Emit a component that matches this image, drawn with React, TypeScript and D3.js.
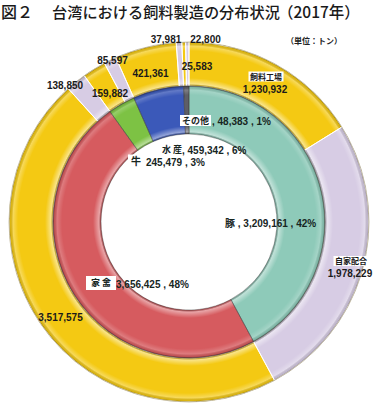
import React from "react";
import * as d3 from "d3";

// ---- data ----
const innerCats = ["豚", "家禽", "牛", "水産", "その他"];
const innerValues = [3209161, 3656425, 245479, 459342, 48383];
const innerPct = ["42%", "48%", "3%", "6%", "1%"];
const factoryValues = [1230932, 3517575, 159882, 421361, 25583]; // 飼料工場
const selfMixValues = [1978229, 138850, 85597, 37981, 22800]; // 自家配合
const outerTypes = ["飼料工場", "自家配合"];
const titleFig = "図２";
const titleMain = "台湾における飼料製造の分布状況";
const titleYear = "（2017年）";
const unitText = "（単位：トン）";

// ---- style / layout ----
const W = 379, H = 407;
const cx = 189, cy = 222;
const rHole = 88, rMid = 136, rOuter = 180;
const innerColors = ["#8ECAB9", "#D65B5F", "#7DC244", "#3B59B9", "#5E5E66"];
const outerColors = ["#F4C913", "#D7CCE4"];
const fmt = d3.format(",");

// label anchor offsets (relative to pie centre), in draw order of outer arcs
const outerLabelPos = [
  [76, -133], [161, 51.5], [-128.5, 95], [-124, -136.5], [-79, -128.5],
  [-76.5, -161.5], [-38.5, -148.5], [-23, -183], [8, -156], [16.5, -183],
];
const innerLabelPos = [
  [36, 1.5], [-73, 61], [-42, -60.5], [-27, -72.5], [-4, -101.5],
];

export default function App() {
  const pie = d3.pie<number>().sort(null).startAngle(0).endAngle(2 * Math.PI);
  const innerArcs = pie(innerValues);
  const outerVals: number[] = [];
  const outerType: number[] = [];
  innerValues.forEach((_, i) => {
    outerVals.push(factoryValues[i], selfMixValues[i]);
    outerType.push(0, 1);
  });
  const outerArcs = pie(outerVals);
  const arcInner = d3.arc<any>().innerRadius(rHole).outerRadius(rMid);
  const arcOuter = d3.arc<any>().innerRadius(rMid).outerRadius(rOuter);

  const numFont = "'Liberation Sans', Arial, 'Noto Sans CJK JP', sans-serif";
  const jpFont = "'Noto Sans CJK JP', sans-serif";

  const box = (x: number, y: number, w: number, h: number, key: string) => (
    <rect key={key} x={x} y={y} width={w} height={h} fill="#fff" />
  );

  return (
    <svg width={W} height={H} style={{ position: "absolute", left: 0, top: 0, background: "#fff" }}>
      <defs>
        <radialGradient id="bevOuter" cx={0} cy={0} r={rOuter} gradientUnits="userSpaceOnUse">
          <stop offset={0} stopColor="#fff" stopOpacity={0} />
          <stop offset={(rMid - 0.5) / rOuter} stopColor="#fff" stopOpacity={0} />
          <stop offset={rMid / rOuter} stopColor="#000" stopOpacity={0.3} />
          <stop offset={(rMid + 2) / rOuter} stopColor="#fff" stopOpacity={0.5} />
          <stop offset={(rMid + 8) / rOuter} stopColor="#fff" stopOpacity={0} />
          <stop offset={(rOuter - 9) / rOuter} stopColor="#fff" stopOpacity={0} />
          <stop offset={(rOuter - 4) / rOuter} stopColor="#fff" stopOpacity={0.3} />
          <stop offset={(rOuter - 1.5) / rOuter} stopColor="#000" stopOpacity={0.1} />
          <stop offset={1} stopColor="#000" stopOpacity={0.4} />
        </radialGradient>
        <radialGradient id="bevInner" cx={0} cy={0} r={rMid} gradientUnits="userSpaceOnUse">
          <stop offset={0} stopColor="#fff" stopOpacity={0} />
          <stop offset={(rHole - 0.5) / rMid} stopColor="#fff" stopOpacity={0} />
          <stop offset={rHole / rMid} stopColor="#000" stopOpacity={0.25} />
          <stop offset={(rHole + 2) / rMid} stopColor="#fff" stopOpacity={0.45} />
          <stop offset={(rHole + 8) / rMid} stopColor="#fff" stopOpacity={0} />
          <stop offset={(rMid - 9) / rMid} stopColor="#fff" stopOpacity={0} />
          <stop offset={(rMid - 4) / rMid} stopColor="#fff" stopOpacity={0.2} />
          <stop offset={(rMid - 1.5) / rMid} stopColor="#000" stopOpacity={0.1} />
          <stop offset={1} stopColor="#000" stopOpacity={0.4} />
        </radialGradient>
      </defs>

      <text y={18} fontFamily={jpFont} fontWeight={500} fill="#1a1a1a">
        <tspan x={1} fontSize={16}>{titleFig}</tspan>
        <tspan x={52} fontSize={15.2}>{titleMain}</tspan>
        <tspan x={278} fontSize={15.5}>{titleYear}</tspan>
      </text>
      <text x={314} y={44} textAnchor="middle" fontFamily={jpFont} fontSize={8} fontWeight={700} fill="#222">
        {unitText}
      </text>

      <g transform={`translate(${cx},${cy})`}>
        {outerArcs.map((a, i) => (
          <path key={"o" + i} d={arcOuter(a) as string} fill={outerColors[outerType[i]]} />
        ))}
        {outerArcs.map((a, i) => (
          <path key={"ob" + i} d={arcOuter(a) as string} fill="url(#bevOuter)" stroke="#fff" strokeWidth={0.9} />
        ))}
        {innerArcs.map((a, i) => (
          <path key={"i" + i} d={arcInner(a) as string} fill={innerColors[i]} />
        ))}
        {innerArcs.map((a, i) => (
          <path key={"ib" + i} d={arcInner(a) as string} fill="url(#bevInner)" stroke="#3a3a3a" strokeOpacity={0.6} strokeWidth={0.7} />
        ))}
        <circle r={rOuter} fill="none" stroke="#7a6a30" strokeOpacity={0.5} strokeWidth={0.8} />
        <circle r={rMid} fill="none" stroke="#5a4a40" strokeOpacity={0.45} strokeWidth={0.8} />
      </g>

      {/* outer labels */}
      <g fontFamily={numFont} fontWeight={700} fontSize={10} fill="#1a1a1a" textAnchor="middle">
        {outerArcs.map((a, i) => {
          const [dx, dy] = outerLabelPos[i];
          const x = cx + dx, y = cy + dy;
          const catIdx = Math.floor(i / 2);
          const showType = catIdx === 0;
          return (
            <g key={"ol" + i}>
              {showType && box(x - 16.5, y - 17.5, 35, 10, "b" + i)}
              {showType && (
                <text x={x + 1} y={y - 9.5} fontSize={8} fontFamily={jpFont}>
                  {outerTypes[outerType[i]]}
                </text>
              )}
              <text x={x} y={y + 3.5}>{fmt(a.data as number)}</text>
            </g>
          );
        })}
      </g>

      {/* inner labels */}
      <g fontFamily={numFont} fontWeight={700} fontSize={10} fill="#17261f">
        {innerArcs.map((a, i) => {
          const [dx, dy] = innerLabelPos[i];
          const x = cx + dx, y = cy + dy;
          const v = fmt(innerValues[i]);
          const cat = innerCats[i];
          if (i === 0) {
            return (
              <text key={"il" + i} x={x} y={y + 3.5}>{`${cat} , ${v} , ${innerPct[i]}`}</text>
            );
          }
          if (i === 1) {
            return (
              <g key={"il" + i}>
                {box(x - 30, y - 7, 30, 14, "bx1")}
                <text x={x - 15} y={y + 3} textAnchor="middle" fontSize={9} fontFamily={jpFont}>{cat.split("").join(" ")}</text>
                <text x={x} y={y + 4.5}>{`${v} , ${innerPct[i]}`}</text>
              </g>
            );
          }
          if (i === 2) {
            return (
              <g key={"il" + i}>
                {box(x - 19, y - 7, 17, 14, "bx2")}
                <text x={x - 11} y={y + 3.5} textAnchor="middle" fontSize={10} fontFamily={jpFont}>{cat}</text>
                <text x={x - 1} y={y + 4}>{`${v} , ${innerPct[i]}`}</text>
              </g>
            );
          }
          if (i === 3) {
            return (
              <g key={"il" + i}>
                <text x={x} y={y + 3.5} fontSize={9} fontFamily={jpFont}>{cat.split("").join(" ")}</text>
                <text x={x + 20} y={y + 4}>{` , ${v} , ${innerPct[i]}`}</text>
              </g>
            );
          }
          return (
            <g key={"il" + i}>
              {box(x - 5, y - 5.5, 31, 11, "bx4")}
              <text x={x + 10.5} y={y + 3.5} textAnchor="middle" fontSize={9} fontFamily={jpFont}>{cat}</text>
              <text x={x + 27} y={y + 4}>{`, ${v} , ${innerPct[i]}`}</text>
            </g>
          );
        })}
      </g>
    </svg>
  );
}
